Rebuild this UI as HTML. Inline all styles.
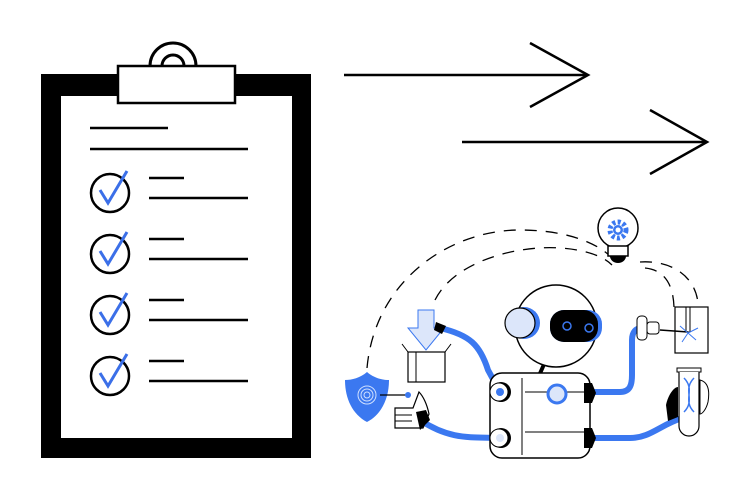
<!DOCTYPE html>
<html><head><meta charset="utf-8"><style>html,body{margin:0;padding:0;background:#fff}svg{display:block}</style></head>
<body>
<svg width="747" height="500" viewBox="0 0 747 500" xmlns="http://www.w3.org/2000/svg">
<!-- clipboard -->
<rect x="41" y="74" width="270" height="384" fill="#000"/>
<rect x="61" y="96" width="231" height="342" fill="#fff"/>
<circle cx="173" cy="66" r="23" fill="#fff" stroke="#000" stroke-width="3"/>
<circle cx="173" cy="66" r="11" fill="#fff" stroke="#000" stroke-width="3"/>
<rect x="118" y="66" width="117" height="37" fill="#fff" stroke="#000" stroke-width="2.5"/>
<g stroke="#000" stroke-width="2.5">
<line x1="90" y1="128" x2="168" y2="128"/>
<line x1="90" y1="149" x2="248" y2="149"/>
<line x1="149" y1="178" x2="184" y2="178"/><line x1="149" y1="198" x2="248" y2="198"/>
<line x1="149" y1="239" x2="184" y2="239"/><line x1="149" y1="259" x2="248" y2="259"/>
<line x1="149" y1="300" x2="184" y2="300"/><line x1="149" y1="320" x2="248" y2="320"/>
<line x1="149" y1="361" x2="184" y2="361"/><line x1="149" y1="381" x2="248" y2="381"/>
</g>
<g fill="none" stroke="#000" stroke-width="2.5">
<circle cx="110" cy="193" r="19"/><circle cx="110" cy="254" r="19"/><circle cx="110" cy="315" r="19"/><circle cx="110" cy="376" r="19"/>
</g>
<g fill="none" stroke="#3b6fe8" stroke-width="3">
<polyline points="100,190 108,203 127,171"/>
<polyline points="100,251 108,264 127,232"/>
<polyline points="100,312 108,325 127,293"/>
<polyline points="100,373 108,386 127,354"/>
</g>
<!-- arrows -->
<g fill="none" stroke="#000" stroke-width="2.5">
<line x1="344" y1="75" x2="588" y2="75"/><polyline points="530,43 588,75 530,107"/>
<line x1="462" y1="142" x2="707" y2="142"/><polyline points="650,110 707,142 650,174"/>
</g>
<!-- dashed arcs -->
<g fill="none" stroke="#000" stroke-width="1.3" stroke-dasharray="12,9">
<path d="M367,368 C375,280 450,230 520,230 C570,230 600,245 612,258"/>
<path d="M435,300 C455,260 520,245 560,248 C590,250 605,258 612,265"/>
<path d="M640,262 C670,260 695,275 698,303"/>
<path d="M645,268 C665,270 675,285 674,315"/>
</g>
<!-- box and arrow -->
<rect x="408" y="352" width="37" height="30" fill="#fff" stroke="#000" stroke-width="1.2"/>
<line x1="416" y1="352" x2="416" y2="382" stroke="#000"/>
<path d="M408,352 l-6,-8 M445,352 l6,-8" stroke="#000" fill="none"/>
<path d="M418,310 h16 v18 h10 l-18,22 -18,-22 h10z" fill="#dce6fa" stroke="#3b78f0" stroke-width="1"/>
<!-- blue cables -->
<g fill="none" stroke="#3b78f0" stroke-width="6" stroke-linecap="round">
<path d="M440,328 C470,335 480,345 488,370 L500,392"/>
<path d="M420,420 C450,440 470,437 500,438"/>
<path d="M590,392 L620,392 C630,392 632,385 632,375 L632,340 C632,332 636,328 642,328"/>
<path d="M590,438 L630,438 C650,438 660,425 682,418"/>
</g>
<path d="M436,322 l10,4 -4,8 -8,-4z" fill="#000"/>
<!-- bulb -->
<circle cx="618" cy="228" r="20" fill="#fff" stroke="#000" stroke-width="1.5"/>
<rect x="608" y="246" width="20" height="10" fill="#fff" stroke="#000" stroke-width="1.5"/>
<path d="M610,256 h16 a8,7 0 0 1 -16,0z" fill="#000"/>
<circle cx="618" cy="230" r="8" fill="none" stroke="#3b78f0" stroke-width="5" stroke-dasharray="3,2.3"/>
<circle cx="618" cy="230" r="5" fill="#3b78f0"/><circle cx="618" cy="230" r="2.5" fill="#fff"/>
<!-- robot head -->
<line x1="545" y1="362" x2="538" y2="378" stroke="#000" stroke-width="4"/>
<circle cx="556" cy="326" r="41" fill="#fff" stroke="#000" stroke-width="1.5"/>
<circle cx="524" cy="323" r="16" fill="#3b78f0"/>
<circle cx="520" cy="323" r="15" fill="#dce6fa" stroke="#000" stroke-width="1.2"/>
<rect x="550" y="310" width="52" height="32" rx="14" fill="#3b78f0"/>
<rect x="550" y="310" width="48" height="32" rx="14" fill="#000"/>
<circle cx="567" cy="326" r="4" fill="none" stroke="#3b78f0" stroke-width="1.5"/>
<circle cx="589" cy="328" r="4" fill="none" stroke="#3b78f0" stroke-width="1.5"/>
<!-- body -->
<rect x="490" y="373" width="100" height="85" rx="12" fill="#fff" stroke="#000" stroke-width="1.5"/>
<line x1="522" y1="378" x2="522" y2="455" stroke="#000" stroke-width="1"/>
<line x1="525" y1="392" x2="585" y2="392" stroke="#000" stroke-width="1"/>
<line x1="525" y1="432" x2="585" y2="432" stroke="#000" stroke-width="1"/>
<circle cx="557" cy="394" r="9" fill="#dce6fa" stroke="#3b78f0" stroke-width="3"/>
<circle cx="501" cy="392" r="10" fill="#000"/><circle cx="499" cy="392" r="9" fill="#fff" stroke="#000"/><circle cx="500" cy="392" r="4" fill="#3b78f0"/>
<circle cx="501" cy="438" r="10" fill="#000"/><circle cx="499" cy="438" r="9" fill="#fff" stroke="#000"/><circle cx="500" cy="438" r="4" fill="#dce6fa"/>
<path d="M584,383 l8,0 4,10 -4,10 -8,0z" fill="#000"/>
<path d="M584,428 l8,0 4,10 -4,10 -8,0z" fill="#000"/>
<!-- shield -->
<path d="M367,372 C360,378 352,380 345,380 C345,398 352,414 367,422 C382,414 389,398 389,380 C382,380 374,378 367,372z" fill="#3b78f0"/>
<g fill="none" stroke="#cfe0ff" stroke-width="1">
<circle cx="367" cy="395" r="3"/><circle cx="367" cy="395" r="6"/><circle cx="367" cy="395" r="9"/></g>
<line x1="380" y1="395" x2="408" y2="395" stroke="#000" stroke-width="1.2"/>
<circle cx="408" cy="395" r="3" fill="#3b78f0"/>
<!-- left hand -->
<path d="M395,408 h18 l6,-16 c4,4 8,12 10,22 l-6,14 h-28z" fill="#fff" stroke="#000" stroke-width="1.2"/>
<g stroke="#000" stroke-width="1"><line x1="395" y1="415" x2="412" y2="415"/><line x1="395" y1="421" x2="412" y2="421"/></g>
<path d="M416,412 l10,-2 l4,10 -10,10z" fill="#000"/>
<!-- laser -->
<rect x="675" y="307" width="33" height="46" fill="#fff" stroke="#000" stroke-width="1.2"/>
<path d="M686,307 v25 h4 v-25" fill="none" stroke="#000"/>
<line x1="660" y1="330" x2="688" y2="332" stroke="#000" stroke-width="1.5"/>
<rect x="637" y="316" width="10" height="24" rx="4" fill="#fff" stroke="#000"/>
<rect x="647" y="322" width="12" height="12" rx="3" fill="#fff" stroke="#000"/>
<g stroke="#3b78f0" stroke-width="1"><line x1="688" y1="333" x2="698" y2="328"/><line x1="688" y1="333" x2="680" y2="326"/><line x1="688" y1="333" x2="696" y2="340"/><line x1="688" y1="333" x2="682" y2="342"/></g>
<!-- test tube -->
<rect x="677" y="368" width="24" height="4" fill="#fff" stroke="#000"/>
<path d="M679,372 v54 a10,10 0 0 0 20,0 v-54" fill="#fff" stroke="#000" stroke-width="1.2"/>
<path d="M684,378 C696,390 682,400 694,412 M694,378 C682,390 696,400 684,412" fill="none" stroke="#3b78f0" stroke-width="1.5"/>
<path d="M666,405 c2,-10 8,-18 12,-18 v30 l-10,4z" fill="#000"/>
<path d="M700,380 c8,2 10,10 8,22 c-2,8 -6,12 -8,12z" fill="#fff" stroke="#000"/>
</svg>
</body></html>
